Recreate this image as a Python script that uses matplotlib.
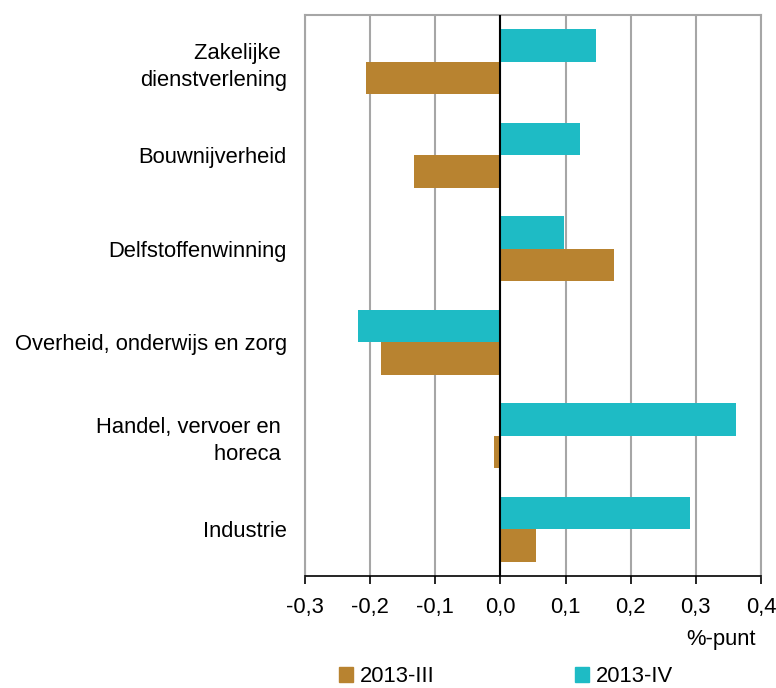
import matplotlib
matplotlib.use("Agg")
import matplotlib.pyplot as plt
import numpy as np
from matplotlib.patches import Patch
from matplotlib.ticker import FuncFormatter, MultipleLocator

plt.rcParams["font.family"] = ["Liberation Sans", "DejaVu Sans"]

categories = [
    "Zakelijke \ndienstverlening",
    "Bouwnijverheid",
    "Delfstoffenwinning",
    "Overheid, onderwijs en zorg",
    "Handel, vervoer en \nhoreca ",
    "Industrie",
]
q3_2013 = [-0.207, -0.133, 0.174, -0.183, -0.010, 0.054]
q4_2013 = [0.146, 0.122, 0.097, -0.219, 0.362, 0.291]
series_names = ["2013-III", "2013-IV"]

brown = "#B88330"
teal = "#1EBBC5"
grid_grey = "#A6A6A6"


def comma_fmt(x, pos):
    return f"{x:.1f}".replace(".", ",")


def main() -> None:
    fig = plt.figure(figsize=(7.76, 6.88), dpi=100)
    ax = fig.add_axes([305 / 776, 1 - 576 / 688, 456 / 776, 561 / 688])

    y = np.arange(len(categories))
    h = 0.35
    ax.barh(y - h / 2, q4_2013, h, color=teal, zorder=3)
    ax.barh(y + h / 2, q3_2013, h, color=brown, zorder=3)

    ax.set_xlim(-0.3, 0.4)
    ax.set_ylim(len(categories) - 0.5, -0.5)
    ax.xaxis.set_major_locator(MultipleLocator(0.1))
    ax.xaxis.set_major_formatter(FuncFormatter(comma_fmt))
    ax.grid(axis="x", color=grid_grey, linewidth=1.5, zorder=0)
    ax.axvline(0, color="black", linewidth=1.5, zorder=4)

    ax.set_yticks(y)
    ax.set_yticklabels(categories, fontsize=15.8, linespacing=1.35)
    ax.tick_params(axis="y", length=0, pad=13)
    ax.tick_params(axis="x", length=6, width=1.2, direction="out",
                   labelsize=15.8, pad=9, color="black")

    for side in ("top", "left", "right"):
        ax.spines[side].set_color(grid_grey)
        ax.spines[side].set_linewidth(1.5)
    ax.spines["bottom"].set_color("black")
    ax.spines["bottom"].set_linewidth(1.2)

    fig.text(756 / 776, 1 - 640 / 688, "%-punt", ha="right", va="center",
             fontsize=15.8)

    handles = [Patch(color=brown), Patch(color=teal)]
    fig.legend(handles, series_names, loc="center left",
               bbox_to_anchor=(339 / 776, 1 - 677 / 688), ncol=2,
               frameon=False, fontsize=15.8, handlelength=0.65,
               handleheight=0.65, handletextpad=0.3, columnspacing=6.4,
               borderaxespad=0, borderpad=0)

    fig.savefig("out.png", dpi=100)


if __name__ == "__main__":
    main()
